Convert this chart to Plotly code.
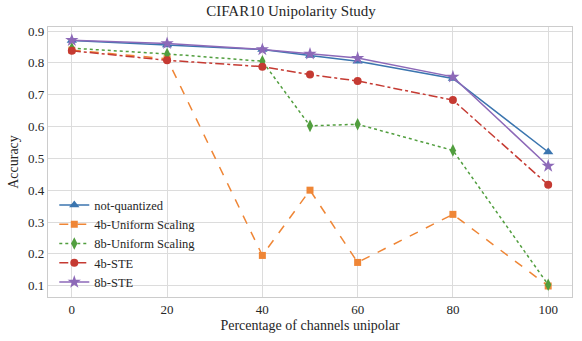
import plotly.graph_objects as go

# Percentage of channels made unipolar
pct = [0, 20, 40, 50, 60, 80, 100]

# Accuracy per configuration
not_quantized = [0.870, 0.856, 0.842, 0.823, 0.805, 0.751, 0.520]
uniform_4b = [0.840, 0.813, 0.195, 0.400, 0.173, 0.324, 0.099]
uniform_8b = [0.846, 0.828, 0.805, 0.602, 0.607, 0.525, 0.103]
ste_4b = [0.838, 0.808, 0.788, 0.763, 0.743, 0.683, 0.417]
ste_8b = [0.871, 0.861, 0.842, 0.828, 0.815, 0.756, 0.476]

x_ticks = [0, 20, 40, 60, 80, 100]
y_ticks = [0.1, 0.2, 0.3, 0.4, 0.5, 0.6, 0.7, 0.8, 0.9]

series = [
    ("not-quantized", not_quantized, "#3b75af", "solid", "triangle-up", 9),
    ("4b-Uniform Scaling", uniform_4b, "#ef8636", "dash", "square", 7),
    ("8b-Uniform Scaling", uniform_8b, "#519e3e", "dot", "diamond-tall", 9),
    ("4b-STE", ste_4b, "#c53a32", "dashdot", "circle", 8),
    ("8b-STE", ste_8b, "#8d69b8", "solid", "star", 10),
]

FONT = "Liberation Serif"

fig = go.Figure()
for name, vals, color, dash, symbol, size in series:
    fig.add_trace(go.Scatter(
        x=pct, y=vals, name=name, mode="lines+markers",
        line=dict(color=color, width=1.5, dash=dash),
        marker=dict(symbol=symbol, size=size, color=color, line=dict(width=0)),
    ))

fig.update_layout(
    width=582, height=341,
    margin=dict(l=48, r=10, t=27, b=44),
    paper_bgcolor="white", plot_bgcolor="white",
    font=dict(family=FONT, size=13, color="#262626"),
    title=dict(text="CIFAR10 Unipolarity Study", x=0.5, xanchor="center",
               y=0.968, yanchor="middle", font=dict(size=15, family=FONT)),
    legend=dict(x=0.012, y=0.395, xanchor="left", yanchor="top",
                bgcolor="rgba(0,0,0,0)", font=dict(size=12.5, family=FONT),
                tracegroupgap=0, itemwidth=30),
    showlegend=True,
)
fig.update_xaxes(
    range=[-5, 105], tickvals=x_ticks, ticktext=[str(v) for v in x_ticks],
    showgrid=True, gridcolor="#dcdcdc", gridwidth=1,
    showline=True, linecolor="#cccccc", linewidth=1.2, mirror=True,
    zeroline=False, ticks="", ticklen=0,
    title=dict(text="Percentage of channels unipolar", standoff=4, font=dict(size=14)),
)
fig.update_yaxes(
    range=[0.0644, 0.9126], tickvals=y_ticks, ticktext=[f"{v:.1f}" for v in y_ticks],
    showgrid=True, gridcolor="#dcdcdc", gridwidth=1,
    showline=True, linecolor="#cccccc", linewidth=1.2, mirror=True,
    zeroline=False, ticks="", ticklen=0,
    title=dict(text="Accuracy", standoff=6, font=dict(size=14)),
)

fig.write_html("out.html")
